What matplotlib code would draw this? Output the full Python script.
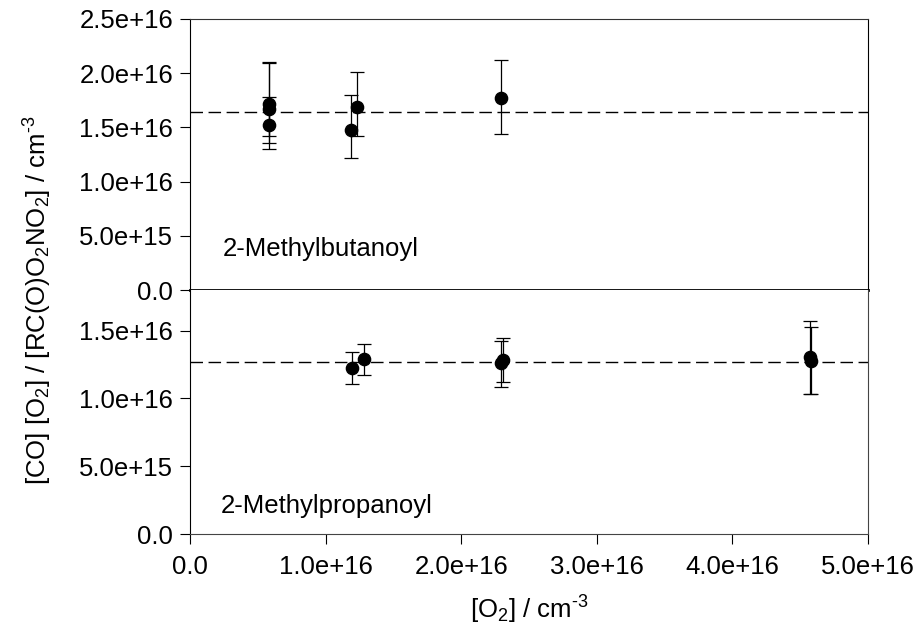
import matplotlib
matplotlib.use("Agg")
import matplotlib.pyplot as plt
import numpy as np

plt.rcParams['font.family'] = ['Liberation Sans', 'DejaVu Sans']
plt.rcParams['mathtext.fontset'] = 'custom'
plt.rcParams['mathtext.rm'] = 'Liberation Sans'
plt.rcParams['mathtext.it'] = 'Liberation Sans:italic'
plt.rcParams['mathtext.bf'] = 'Liberation Sans:bold'

# ---- data: top panel (2-Methylbutanoyl) ----
top_x = [0.58e16, 0.58e16, 0.58e16, 1.187e16, 1.229e16, 2.29e16]
top_y = [1.72e16, 1.673e16, 1.526e16, 1.48e16, 1.688e16, 1.77e16]
top_hi = [2.10e16, 2.09e16, 1.78e16, 1.796e16, 2.01e16, 2.12e16]
top_lo = [1.418e16, 1.356e16, 1.298e16, 1.218e16, 1.418e16, 1.443e16]
top_mean = 1.64e16

# ---- data: bottom panel (2-Methylpropanoyl) ----
bot_x = [1.197e16, 1.286e16, 2.29e16, 2.31e16, 4.57e16, 4.58e16]
bot_y = [1.227e16, 1.294e16, 1.264e16, 1.281e16, 1.306e16, 1.279e16]
bot_hi = [1.343e16, 1.402e16, 1.422e16, 1.444e16, 1.573e16, 1.528e16]
bot_lo = [1.109e16, 1.176e16, 1.087e16, 1.124e16, 1.03e16, 1.03e16]
bot_mean = 1.267e16

x_ticks = [0, 1e16, 2e16, 3e16, 4e16, 5e16]
x_ticklabels = ['0.0', '1.0e+16', '2.0e+16', '3.0e+16', '4.0e+16', '5.0e+16']
top_yticks = [0, 5e15, 1e16, 1.5e16, 2e16, 2.5e16]
top_yticklabels = ['0.0', '5.0e+15', '1.0e+16', '1.5e+16', '2.0e+16', '2.5e+16']
bot_yticks = [0, 5e15, 1e16, 1.5e16]
bot_yticklabels = ['0.0', '5.0e+15', '1.0e+16', '1.5e+16']

W, H = 919, 639
fig = plt.figure(figsize=(W / 100, H / 100), dpi=100)

left = 190 / W
width = (868 - 190) / W
ax_top = fig.add_axes([left, 1 - 290 / H, width, (290 - 19) / H])
ax_bot = fig.add_axes([left, 1 - 534 / H, width, (534 - 290) / H])

FS = 18.5

def draw(ax, xs, ys, hi, lo, mean):
    ys = np.array(ys)
    yerr = [ys - np.array(lo), np.array(hi) - ys]
    ax.errorbar(xs, ys, yerr=yerr, fmt='o', color='black', ms=8.8,
                ecolor='black', elinewidth=0.9, capsize=5, capthick=0.9, zorder=3)
    ax.axhline(mean, color='black', lw=1.0, dashes=(9, 4), zorder=2)
    ax.set_xlim(0, 5e16)
    for s in ax.spines.values():
        s.set_linewidth(0.8)
    ax.tick_params(axis='both', direction='out', length=7, width=0.8,
                   labelsize=FS, pad=5)

draw(ax_top, top_x, top_y, top_hi, top_lo, top_mean)
draw(ax_bot, bot_x, bot_y, bot_hi, bot_lo, bot_mean)

ax_top.set_ylim(0, 2.5e16)
ax_top.set_yticks(top_yticks)
ax_top.set_yticklabels(top_yticklabels)
ax_top.set_xticks([])
ax_top.spines['bottom'].set_linewidth(2.0)
ax_top.spines['top'].set_color('#333333')

ax_bot.set_ylim(0, 1.8e16)
ax_bot.set_yticks(bot_yticks)
ax_bot.set_yticklabels(bot_yticklabels)
ax_bot.set_xticks(x_ticks)
ax_bot.set_xticklabels(x_ticklabels)
ax_bot.tick_params(axis='x', pad=8)
ax_bot.spines['top'].set_visible(False)
ax_bot.spines['right'].set_color('#444444')
ax_bot.spines['bottom'].set_color('#444444')

ax_top.text(0.049, 0.151, '2-Methylbutanoyl', transform=ax_top.transAxes,
            fontsize=FS, ha='left', va='center')
ax_bot.text(0.045, 0.115, '2-Methylpropanoyl', transform=ax_bot.transAxes,
            fontsize=FS, ha='left', va='center')

fig.text(38 / W, 1 - 300 / H,
         r'[CO] [O$_2$] / [RC(O)O$_2$NO$_2$] / cm$^{\text{-}3}$',
         rotation=90, ha='center', va='center', fontsize=FS)
fig.text(529 / W, 1 - 610 / H, r'[O$_2$] / cm$^{\text{-}3}$',
         ha='center', va='center', fontsize=FS)

fig.savefig('out.png', dpi=100)
